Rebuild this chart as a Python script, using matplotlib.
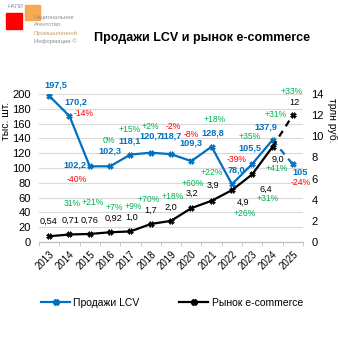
import matplotlib
matplotlib.use('Agg')
import matplotlib.pyplot as plt
from matplotlib.lines import Line2D
from matplotlib.patches import Rectangle

plt.rcParams['font.family'] = ['Liberation Sans', 'DejaVu Sans']

# данные
years = ['2013', '2014', '2015', '2016', '2017', '2018', '2019',
         '2020', '2021', '2022', '2023', '2024', '2025']
lcv = [197.5, 170.2, 102.2, 102.3, 118.1, 120.7, 118.7, 109.3, 128.8, 78.0, 105.5, 137.9, 105]
ecom = [0.54, 0.71, 0.76, 0.92, 1.0, 1.7, 2.0, 3.2, 3.9, 4.9, 6.4, 9.0, 12]
lcv_txt = ['197,5', '170,2', '102,2', '102,3', '118,1', '120,7', '118,7',
           '109,3', '128,8', '78,0', '105,5', '137,9', '105']
ecom_txt = ['0,54', '0,71', '0,76', '0,92', '1,0', '1,7', '2,0',
            '3,2', '3,9', '4,9', '6,4', '9,0', '12']
lcv_chg = [None, '-14%', '-40%', '0%', '+15%', '+2%', '-2%', '-8%', '+18%', '-39%', '+35%', '+31%', '-24%']
ecom_chg = [None, '31%', '+21%', '+7%', '+9%', '+70%', '+18%', '+60%', '+22%', '+26%', '+31%', '+41%', '+33%']

# смещения подписей (пиксели)
lcv_val_off = [(7, 11), (6, 14), (-15, 1), (0, 15), (-1, 14), (0, 17), (0, 18),
               (0, 18), (1, 14), (5, 14), (-2, 16), (-7, 13), (7, -8)]
lcv_chg_off = [None, (14, 3), (-13, -13), (-1, 26), (-1, 25), (0, 26), (2, 28),
               (0, 27), (3, 27), (5, 25), (-3, 27), (3, 25), (8, -18)]
ecom_val_off = [(-1, 15), (1, 14), (0, 14), (3, 14), (1, 14), (0, 14), (0, 14),
                (1, 15), (1, 15), (11, -12), (14, -15), (5, -12), (2, 13)]
ecom_chg_off = [None, (3, 31), (3, 31), (4, 25), (3, 25), (-2, 25), (2, 24),
                (1, 25), (0, 28), (13, -23), (15, -24), (4, -22), (-1, 24)]

BLUE = '#0070C0'
GREEN = '#00B050'
RED = '#FF0000'
GRID = '#D9D9D9'

fig = plt.figure(figsize=(3.38, 3.38), dpi=100)
ax = fig.add_axes([39 / 338, 96 / 338, 264 / 338, 148 / 338])
ax2 = ax.twinx()

x = list(range(len(years)))

ax.plot(x[:12], lcv[:12], color=BLUE, lw=1.6, marker='X', ms=4, mew=0.4, zorder=3)
ax.plot(x[11:], lcv[11:], color=BLUE, lw=1.6, ls=(0, (3, 2.5)), zorder=3)
ax.plot(x[12:], lcv[12:], color=BLUE, marker='X', ms=4, mew=0.4, ls='none', zorder=3)

ax2.plot(x[:12], ecom[:12], color='black', lw=1.6, marker='X', ms=4, mew=0.4, zorder=3)
ax2.plot(x[11:], ecom[11:], color='black', lw=1.6, ls=(0, (3, 2.5)), zorder=3)
ax2.plot(x[12:], ecom[12:], color='black', marker='X', ms=4, mew=0.4, ls='none', zorder=3)

fs = 6.6
fs_pct = 6.2
for i in x:
    ax.annotate(lcv_txt[i], (i, lcv[i]), xytext=lcv_val_off[i], textcoords='offset pixels',
                ha='center', va='center', color=BLUE, fontsize=fs, fontweight='bold')
    if lcv_chg[i]:
        c = RED if lcv_chg[i].startswith('-') else GREEN
        ax.annotate(lcv_chg[i], (i, lcv[i]), xytext=lcv_chg_off[i], textcoords='offset pixels',
                    ha='center', va='center', color=c, fontsize=fs_pct)
    ax2.annotate(ecom_txt[i], (i, ecom[i]), xytext=ecom_val_off[i], textcoords='offset pixels',
                 ha='center', va='center', color='black', fontsize=fs)
    if ecom_chg[i]:
        ax2.annotate(ecom_chg[i], (i, ecom[i]), xytext=ecom_chg_off[i], textcoords='offset pixels',
                     ha='center', va='center', color=GREEN, fontsize=fs_pct)

ax.set_xlim(-0.5, 12.5)
ax.set_ylim(0, 200)
ax2.set_ylim(0, 14)
ax.set_yticks(range(0, 201, 20))
ax2.set_yticks(range(0, 15, 2))
ax.yaxis.grid(True, color=GRID, lw=0.8)
ax.set_axisbelow(True)

ax.set_xticks(x)
ax.set_xticklabels(years, rotation=45, ha='right', va='top', rotation_mode='anchor', fontsize=7)
ax.set_xticks([i - 0.5 for i in range(14)], minor=True)
ax.tick_params(axis='x', which='major', length=0, pad=5)
ax.tick_params(axis='x', which='minor', length=3, color='#BFBFBF')
ax.tick_params(axis='y', length=0, pad=6, labelsize=8)
ax2.tick_params(axis='y', length=0, pad=6, labelsize=8)

for a in (ax, ax2):
    for s in ('top', 'left', 'right'):
        a.spines[s].set_visible(False)
    a.spines['bottom'].set_color('#BFBFBF')

ax.set_ylabel('тыс. шт.', fontsize=7.5)
ax.yaxis.set_label_coords(-0.105, 0.82)
ax2.set_ylabel('трлн руб.', fontsize=7.5, rotation=270, va='center')
ax2.yaxis.set_label_coords(1.11, 0.82)

fig.text(202 / 338, 1 - 38 / 338, 'Продажи LCV и рынок e-commerce', ha='center', va='center',
         fontsize=9, fontweight='bold')

# логотип
fig.patches.append(Rectangle((6 / 338, 1 - 29 / 338), 16 / 338, 16 / 338,
                             transform=fig.transFigure, color='#FF0000', zorder=1))
fig.patches.append(Rectangle((25 / 338, 1 - 20 / 338), 15 / 338, 15 / 338,
                             transform=fig.transFigure, color='#F8A040', alpha=0.9, zorder=1))
fig.text(7 / 338, 1 - 7 / 338, 'НАПИ', fontsize=4, color='#8090B0', va='center')
logo_lines = ['Национальное', 'Агентство', 'Промышленной', 'Информации ©']
logo_cols = ['#909090', '#909090', '#C8A070', '#909090']
for k, (t, c) in enumerate(zip(logo_lines, logo_cols)):
    fig.text(34 / 338, 1 - (17 + 8 * k) / 338, t, fontsize=4.3, color=c, va='center')

handles = [Line2D([], [], color=BLUE, lw=1.6, marker='X', ms=4),
           Line2D([], [], color='black', lw=1.6, marker='X', ms=4)]
fig.legend(handles, ['Продажи LCV', 'Рынок e-commerce'], loc='center', ncol=2,
           bbox_to_anchor=(172 / 338, 1 - 303 / 338), frameon=False, fontsize=7.5,
           handlelength=2.8, handletextpad=0.3, columnspacing=3.8)

fig.savefig('out.png', dpi=100)
